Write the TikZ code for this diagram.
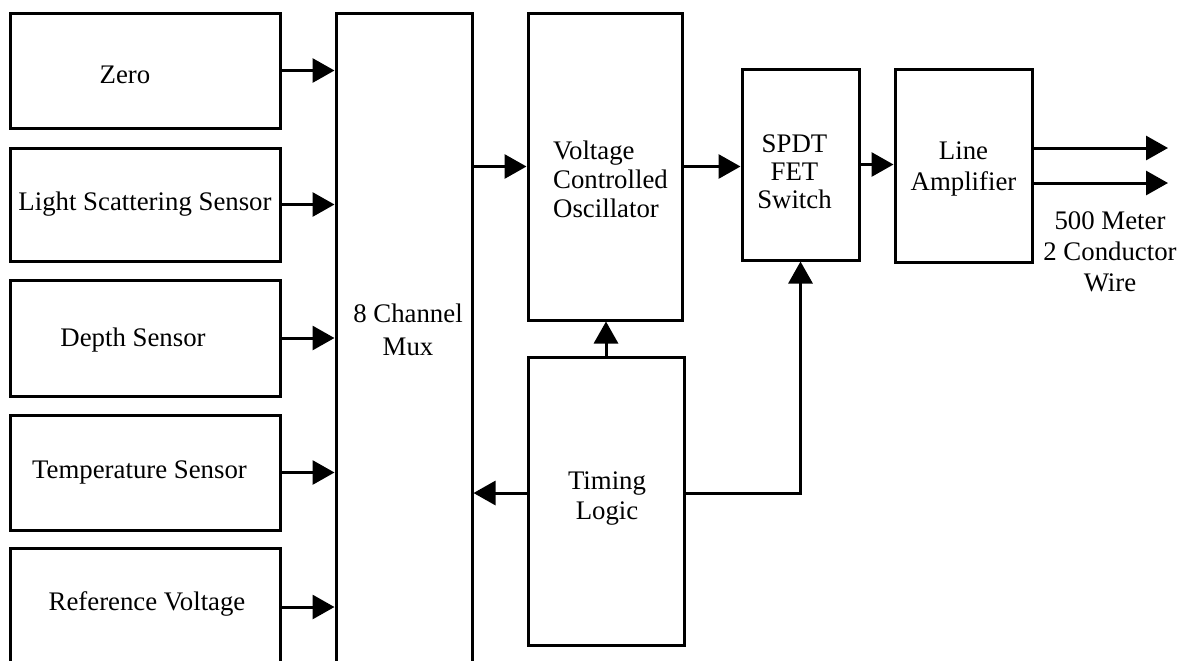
\documentclass[tikz,border=0pt]{standalone}
\usepackage{fontspec}
\setmainfont{Liberation Serif}
\usetikzlibrary{arrows.meta}
\begin{document}
\begin{tikzpicture}[x=0.5pt,y=-0.5pt,
  box/.style={draw, line width=1.5pt, inner sep=0pt, font=\fontsize{13.4}{14.5}\selectfont, align=center},
  arr/.style={line width=1.5pt, -{Triangle[length=11pt,width=12pt]}},
  lbl/.style={font=\fontsize{13.4}{14.5}\selectfont, align=center, inner sep=0pt}]
\useasboundingbox (0,0) rectangle (1182,660);
\clip (0,0) rectangle (1182,660);
\fill[white] (0,0) rectangle (1182,660);

% input boxes
\node[box, minimum width=135pt, minimum height=57.5pt,
  label={[lbl,xshift=-10pt,yshift=-2pt]center:Zero}] (zero) at (145,70.5) {};
\node[box, minimum width=135pt, minimum height=56.5pt] (light) at (145,204.5) {Light Scattering Sensor};
\node[box, minimum width=135pt, minimum height=58pt,
  label={[lbl,xshift=-6pt,yshift=-1pt]center:Depth Sensor}] (depth) at (145,338) {};
\node[box, minimum width=135pt, minimum height=57.5pt,
  label={[lbl,xshift=-2.75pt]center:Temperature Sensor}] (temp) at (145,472.5) {};
\node[box, minimum width=135pt, minimum height=59pt,
  label={[lbl,xshift=1pt,yshift=1.5pt]center:Reference Voltage}] (ref) at (145,607) {};

% mux
\node[box, minimum width=68pt, minimum height=343.5pt,
  label={[lbl,align=center,font=\fontsize{13.4}{16.5}\selectfont,xshift=2pt,yshift=13.5pt]center:8 Channel\\Mux}] (mux) at (404,356.5) {};

% VCO
\node[box, minimum width=77pt, minimum height=153.5pt,
  label={[lbl,align=left,xshift=2.75pt,yshift=-6.5pt]center:Voltage\\Controlled\\Oscillator}] (vco) at (605,166.5) {};

% SPDT
\node[box, minimum width=58.5pt, minimum height=95.5pt,
  label={[lbl,font=\fontsize{13.4}{14}\selectfont,xshift=-3pt,yshift=-3.5pt]center:SPDT\\FET\\Switch}] (spdt) at (800.5,164.5) {};

% Line amplifier
\node[box, minimum width=68.5pt, minimum height=96.5pt,
  label={[lbl,font=\fontsize{13.4}{15.5}\selectfont,yshift=-1.5pt]center:Line\\Amplifier}] (la) at (963.5,165.5) {};

% Timing logic
\node[box, minimum width=78pt, minimum height=144pt,
  label={[lbl,font=\fontsize{13.4}{15}\selectfont,xshift=0.5pt,yshift=1pt]center:Timing\\Logic}] (tim) at (606,501) {};

% output label
\node[lbl, font=\fontsize{13.4}{15.5}\selectfont] (wlbl) at (1110,252) {500 Meter\\2 Conductor\\Wire};

\coordinate (o1) at (1168,148);
\coordinate (o2) at (1168,183);
\coordinate (tj) at (0,493);

\foreach \b in {zero,light,depth,temp,ref}
  \draw[arr] (\b.east) -- (\b.east -| mux.west);
\draw[arr] (mux.east |- vco.west) -- (vco.west);
\draw[arr] (vco.east) -- (vco.east -| spdt.west);
\draw[arr] (spdt.east) -- (spdt.east -| la.west);
\draw[arr] (la.east |- o1) -- (o1);
\draw[arr] (la.east |- o2) -- (o2);
\draw[arr] (tim.north) -- (tim.north |- vco.south);
\draw[arr] (tim.west |- tj) -- (mux.east |- tj);
\draw[arr] (tim.east |- tj) -| (spdt.south);
\end{tikzpicture}
\end{document}
